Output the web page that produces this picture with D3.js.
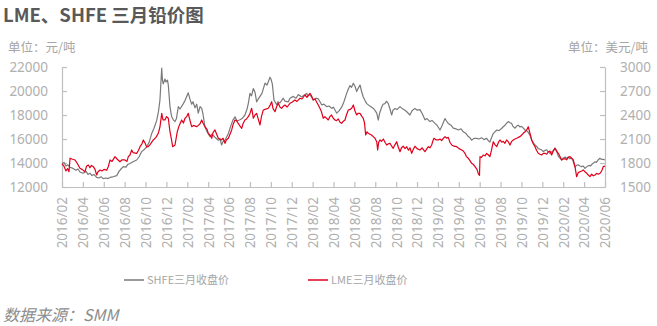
<!DOCTYPE html>
<html>
<head>
<meta charset="utf-8">
<script src="https://cdn.jsdelivr.net/npm/d3@7"></script>
<style>
  html, body { margin: 0; padding: 0; background: #fff; }
  svg { display: block; }
</style>
</head>
<body>
<svg id="chart" width="657" height="326"></svg>
<script>
// ---- Data ----
// time axis: months since 2016/02
const tickLabels = ["2016/02","2016/04","2016/06","2016/08","2016/10","2016/12","2017/02","2017/04","2017/06","2017/08","2017/10","2017/12","2018/02","2018/04","2018/06","2018/08","2018/10","2018/12","2019/02","2019/04","2019/06","2019/08","2019/10","2019/12","2020/02","2020/04","2020/06"];
const leftTicks = [12000, 14000, 16000, 18000, 20000, 22000];
const rightTicks = [1500, 1800, 2100, 2400, 2700, 3000];

// SHFE 三月收盘价 (元/吨)
const shfeT = [0,0.19,0.38,0.57,0.77,1.05,1.34,1.53,1.72,2.01,2.30,2.49,2.68,2.87,3.06,3.32,3.54,3.73,3.95,4.21,4.40,4.60,4.88,5.24,5.46,5.65,5.87,6.13,6.32,6.51,6.80,7.15,7.37,7.63,7.85,8.11,8.33,8.59,8.81,9.07,9.24,9.38,9.55,9.62,9.70,9.86,9.96,10.10,10.18,10.34,10.49,10.66,10.82,10.96,11.14,11.30,11.62,11.78,12.09,12.26,12.42,12.54,12.74,12.90,13.05,13.22,13.38,13.50,13.69,13.89,14.17,14.36,14.65,14.97,15.13,15.29,15.42,15.61,15.93,16.09,16.25,16.38,16.57,16.76,17.05,17.24,17.52,17.72,17.84,18.00,18.15,18.32,18.48,18.64,18.77,18.96,19.15,19.44,19.63,19.77,19.92,20.01,20.14,20.30,20.56,20.68,20.87,21.19,21.35,21.67,21.83,22.15,22.41,22.63,22.95,23.17,23.43,23.56,23.75,24.06,24.32,24.54,24.87,25.09,25.35,25.57,25.83,26.00,26.31,26.53,26.78,27.00,27.26,27.39,27.58,27.72,27.90,28.06,28.22,28.35,28.54,28.68,28.85,29.02,29.18,29.40,29.66,29.88,30.14,30.29,30.40,30.61,30.74,30.93,31.07,31.25,31.41,31.57,31.70,31.89,32.08,32.37,32.56,32.85,33.04,33.32,33.52,33.80,34.00,34.28,34.48,34.76,34.95,35.24,35.43,35.72,35.91,36.20,36.39,36.68,36.82,36.99,37.25,37.47,37.73,37.95,38.21,38.43,38.69,38.91,39.07,39.23,39.45,39.71,39.93,40.19,40.41,40.67,40.79,40.98,41.13,41.30,41.46,41.63,41.85,42.11,42.23,42.42,42.61,42.74,42.90,43.06,43.19,43.38,43.57,43.69,43.86,44.02,44.14,44.34,44.48,44.65,44.82,44.98,45.10,45.30,45.44,45.61,45.77,45.92,46.09,46.25,46.42,46.54,46.73,46.92,47.07,47.21,47.35,47.53,47.69,47.85,47.98,48.17,48.31,48.48,48.65,48.81,48.93,49.12,49.27,49.44,49.60,49.77,49.92,50.08,50.27,50.47,50.61,50.75,50.90,51.04,51.18,51.33,51.52,51.66,51.83,52.00];
const shfeValues = [13950,14050,13750,13850,13650,13550,13400,13500,13250,13150,13300,13050,13150,12950,13050,12800,12750,12850,12700,12750,12700,12800,12850,12950,13300,13500,13700,13650,13900,13950,14100,14250,14500,14950,15100,15350,15700,16450,16900,17550,18300,19250,21900,20900,20600,21000,20750,20900,20500,18700,17900,17600,17450,17700,18700,18500,18950,19200,19850,19300,18900,19100,18600,18900,18150,18700,18550,18100,17000,16600,16200,16400,16150,15900,16000,15500,15800,15900,16450,16900,17300,17600,17850,17500,17600,17700,18000,18500,18950,19800,19600,20200,19900,19100,19300,19550,19800,20650,20500,20800,21150,21000,20600,19250,18850,19100,19000,19400,19150,19100,19400,19550,19400,19700,19500,19650,19800,19600,19700,19250,19400,19350,18850,18900,18700,18750,18550,18650,18150,18350,18650,19100,19800,20100,20450,20300,20650,20400,19950,20200,20500,20000,19500,19200,18950,18800,18650,18500,18150,17580,18100,18650,18900,18950,19150,18950,18500,18000,18400,18550,18450,18700,18550,18400,18250,18000,18350,18550,18400,18450,18150,17600,17700,17450,17550,17300,17150,16750,17100,17700,17500,17300,17150,16900,16850,16750,16850,16600,16450,16200,16100,15900,16050,16050,16000,16100,15950,16050,15900,15750,16100,16450,16600,16750,16700,16900,17000,17150,17350,17450,17350,17300,17050,16900,17100,17150,17000,17050,16950,16750,16700,16550,16300,15900,15750,15500,15400,15200,15150,15100,14950,15050,15100,14950,14800,14950,15050,15250,15050,14550,14400,14250,14400,14500,14400,14500,14350,14400,14200,13650,13800,13850,13750,13700,13750,13550,13700,13800,13750,13900,14000,14100,14050,14250,14400,14300,14300,14250];

// LME 三月收盘价 (美元/吨)
const lmeT = [0,0.19,0.38,0.53,0.67,0.77,0.96,1.24,1.44,1.72,1.92,2.20,2.35,2.52,2.68,2.82,3.00,3.16,3.32,3.45,3.64,3.83,4.02,4.28,4.45,4.60,4.79,5.08,5.27,5.55,5.75,6.03,6.22,6.35,6.51,6.67,6.80,7.15,7.33,7.47,7.66,7.79,7.95,8.11,8.26,8.43,8.74,9.00,9.22,9.38,9.55,9.67,9.86,10.01,10.18,10.34,10.49,10.60,10.82,11.04,11.20,11.46,11.63,11.78,11.94,12.09,12.26,12.42,12.59,12.90,13.05,13.22,13.38,13.50,13.69,13.89,14.01,14.17,14.34,14.46,14.65,14.84,14.97,15.13,15.29,15.42,15.61,15.75,15.93,16.09,16.25,16.38,16.57,16.71,16.88,17.05,17.21,17.33,17.52,17.67,17.84,18.00,18.16,18.24,18.32,18.48,18.64,18.77,18.96,19.10,19.28,19.44,19.76,19.92,20.08,20.21,20.40,20.54,20.71,20.87,21.04,21.19,21.35,21.55,21.83,22.02,22.31,22.50,22.79,22.98,23.27,23.46,23.75,23.89,24.06,24.23,24.54,24.71,24.85,25.02,25.18,25.50,25.66,25.81,25.98,26.14,26.29,26.46,26.62,26.78,26.91,27.10,27.24,27.42,27.58,27.74,27.90,28.06,28.22,28.35,28.54,28.73,28.85,28.97,29.08,29.21,29.33,29.49,29.64,29.81,29.97,30.14,30.23,30.33,30.45,30.60,30.77,30.93,31.09,31.25,31.41,31.57,31.72,31.89,32.05,32.20,32.37,32.51,32.68,32.85,33.01,33.18,33.32,33.49,33.64,33.80,34.00,34.28,34.48,34.76,34.90,35.08,35.24,35.40,35.53,35.62,35.81,36.03,36.20,36.36,36.53,36.68,36.82,36.99,37.15,37.32,37.54,37.80,38.02,38.28,38.43,38.59,38.73,38.91,39.07,39.23,39.41,39.55,39.74,39.88,39.98,40.03,40.17,40.34,40.51,40.67,40.84,40.98,41.13,41.30,41.46,41.63,41.80,41.94,42.11,42.26,42.42,42.58,42.76,42.90,43.06,43.22,43.38,43.54,43.69,43.86,44.02,44.17,44.34,44.50,44.65,44.82,44.98,45.13,45.30,45.44,45.61,45.77,45.93,46.09,46.25,46.42,46.57,46.73,46.89,47.05,47.21,47.35,47.53,47.69,47.85,48.00,48.17,48.33,48.48,48.65,48.81,48.96,49.12,49.28,49.44,49.60,49.77,49.92,50.08,50.25,50.40,50.56,50.72,50.88,51.04,51.20,51.36,51.52,51.68,51.83,52.00];
const lmeValues = [1790,1760,1700,1730,1690,1860,1850,1838,1800,1734,1720,1691,1760,1775,1740,1770,1754,1720,1650,1690,1712,1700,1720,1710,1760,1838,1820,1879,1850,1816,1840,1838,1820,1879,1900,1963,1930,1921,1960,2004,2040,2088,2050,2000,2004,2030,2088,2120,2171,2250,2421,2340,2338,2380,2359,2191,2090,2004,2025,2191,2260,2338,2300,2360,2379,2421,2330,2254,2270,2254,2270,2290,2338,2300,2254,2220,2171,2150,2109,2180,2213,2150,2109,2100,2088,2110,2046,2090,2109,2160,2213,2280,2338,2330,2296,2260,2234,2290,2338,2350,2379,2420,2484,2430,2359,2400,2421,2360,2275,2380,2463,2470,2484,2520,2566,2480,2441,2500,2546,2500,2484,2510,2525,2500,2546,2560,2588,2570,2609,2600,2650,2620,2671,2640,2588,2600,2525,2480,2440,2359,2380,2338,2380,2400,2359,2338,2330,2350,2310,2296,2320,2338,2400,2463,2470,2484,2525,2450,2400,2420,2421,2380,2359,2300,2150,2190,2171,2160,2150,2129,2110,2066,1963,2060,2088,2070,2100,2060,2025,2040,2046,2010,1984,2030,2066,2000,1941,1990,2010,1980,2004,1960,1990,1921,1970,2010,1980,1963,1990,1941,1970,2004,1990,2025,2080,2109,2090,2088,2100,2080,2110,2129,2110,2120,2060,2025,2010,2004,1980,1963,1950,1921,1880,1859,1830,1796,1780,1754,1720,1660,1645,1879,1870,1900,1890,1921,1900,1879,1960,2066,2030,2004,2060,2088,2060,2070,2046,2088,2060,2025,2070,2088,2100,2109,2120,2129,2150,2171,2190,2213,2254,2170,2088,2040,2004,1960,1921,1910,1900,1920,1921,1910,1941,1950,1900,1950,1984,1950,1921,1880,1838,1850,1855,1840,1870,1879,1860,1838,1760,1629,1680,1691,1700,1713,1690,1671,1650,1629,1660,1640,1650,1670,1660,1671,1700,1754,1760];

const seriesNames = ["SHFE三月收盘价", "LME三月收盘价"];
const seriesColors = ["#7a7a7a", "#e0001b"];

// ---- Layout ----
const svg = d3.select("#chart");
const W = 657, H = 326;
const plot = { left: 62, right: 605, top: 67, bottom: 187 };
const axisColor = "#bfbfbf";
const labelColor = "#b0b0b0";
const font = "'Noto Sans', 'Noto Sans CJK SC', sans-serif";
const cjkFont = "'Noto Sans CJK SC', 'Noto Sans', sans-serif";

svg.append("rect").attr("width", W).attr("height", H).attr("fill", "#fff");

const x = d3.scaleLinear().domain([0, 52]).range([plot.left, plot.right]);
const yL = d3.scaleLinear().domain([12000, 22000]).range([plot.bottom, plot.top]);
const yR = d3.scaleLinear().domain([1500, 3000]).range([plot.bottom, plot.top]);

// Title
svg.append("text").attr("x", 3).attr("y", 22)
  .attr("font-family", cjkFont).attr("font-weight", "bold").attr("font-size", 18.5)
  .attr("fill", "#595959").text("LME、SHFE 三月铅价图");

// Units
svg.append("text").attr("x", 8).attr("y", 52)
  .attr("font-family", cjkFont).attr("font-size", 12.5)
  .attr("fill", "#a6a6a6").text("单位：元/吨");
svg.append("text").attr("x", 648).attr("y", 52).attr("text-anchor", "end")
  .attr("font-family", cjkFont).attr("font-size", 12.5)
  .attr("fill", "#a6a6a6").text("单位：美元/吨");

// Left axis
const gL = svg.append("g").attr("transform", `translate(${plot.left},0)`)
  .call(d3.axisLeft(yL).tickValues(leftTicks).tickSizeInner(-5).tickSizeOuter(0).tickPadding(14).tickFormat(d3.format("d")));
// Right axis
const gR = svg.append("g").attr("transform", `translate(${plot.right},0)`)
  .call(d3.axisRight(yR).tickValues(rightTicks).tickSizeInner(-5).tickSizeOuter(0).tickPadding(15).tickFormat(d3.format("d")));
// Bottom axis
const gB = svg.append("g").attr("transform", `translate(0,${plot.bottom})`)
  .call(d3.axisBottom(x).tickValues(d3.range(tickLabels.length).map(i => i * 2)).tickSizeInner(-5).tickSizeOuter(0)
    .tickFormat((d, i) => tickLabels[i]));

[gL, gR, gB].forEach(g => {
  g.select(".domain").attr("stroke", axisColor).attr("stroke-width", 1.2);
  g.selectAll(".tick line").attr("stroke", axisColor).attr("stroke-width", 1.2);
  g.selectAll("text").attr("fill", labelColor).attr("font-family", font).attr("font-size", 13.5);
});
gB.selectAll(".tick text")
  .attr("text-anchor", "end")
  .attr("transform", "rotate(-90)")
  .attr("x", -10).attr("y", 0).attr("dy", "0.36em");

// Lines
const lineL = d3.line().x((d, i) => x(shfeT[i])).y(d => yL(d));
const lineR = d3.line().x((d, i) => x(lmeT[i])).y(d => yR(d));
svg.append("path").datum(shfeValues).attr("d", lineL)
  .attr("fill", "none").attr("stroke", seriesColors[0]).attr("stroke-width", 1.2).attr("stroke-linejoin", "round");
svg.append("path").datum(lmeValues).attr("d", lineR)
  .attr("fill", "none").attr("stroke", seriesColors[1]).attr("stroke-width", 1.2).attr("stroke-linejoin", "round");

// Legend
const legendX = [124, 308];
seriesNames.forEach((name, i) => {
  const g = svg.append("g").attr("transform", `translate(${legendX[i]},280)`);
  g.append("line").attr("x1", 0).attr("x2", 20).attr("y1", 0).attr("y2", 0)
    .attr("stroke", seriesColors[i]).attr("stroke-width", 1.5);
  g.append("text").attr("x", 23).attr("y", 0).attr("dy", "0.35em")
    .attr("font-family", cjkFont).attr("font-size", 11).attr("fill", "#a6a6a6").text(name);
});

// Source
svg.append("text").attr("x", 3).attr("y", 321)
  .attr("font-family", cjkFont).attr("font-style", "italic").attr("font-size", 16)
  .attr("fill", "#8c8c8c").text("数据来源：SMM");
</script>
</body>
</html>
